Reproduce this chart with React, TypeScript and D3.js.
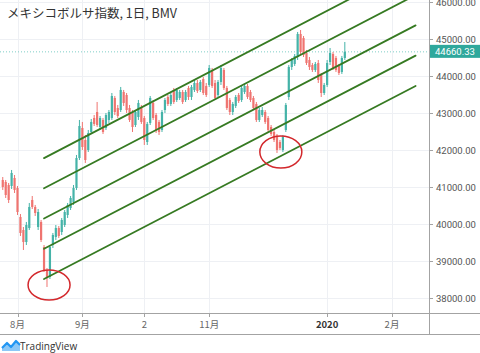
import React, { useEffect, useRef } from "react";
import * as d3 from "d3";

// bar index 0 = first trading day of August 2019
const firstIndex = -5;

// [open, high, low, close] per trading day
const candles: number[][] = [
  [41193, 41274, 40923, 41004],
  [41139, 41193, 40706, 40787],
  [41058, 41112, 40571, 40652],
  [41031, 41464, 40950, 41383],
  [41247, 41328, 40841, 40923],
  [40977, 41031, 40246, 40327],
  [40192, 40273, 39678, 39759],
  [39840, 39921, 39299, 39515],
  [39515, 40057, 39434, 39975],
  [39894, 40571, 39840, 40463],
  [40652, 40760, 40408, 40463],
  [40463, 40517, 40219, 40300],
  [39921, 40408, 39840, 40327],
  [40057, 40111, 39515, 39570],
  [39380, 39434, 38704, 38758],
  [38758, 38812, 38298, 38568],
  [38568, 39434, 38514, 39380],
  [39434, 39759, 39353, 39705],
  [39651, 39975, 39570, 39894],
  [39894, 39948, 39624, 39678],
  [39786, 40165, 39705, 40111],
  [39975, 40381, 39921, 40327],
  [40246, 40571, 40165, 40517],
  [40436, 40760, 40381, 40706],
  [40598, 41058, 40517, 40977],
  [40977, 41870, 40923, 41788],
  [41788, 42817, 41734, 42654],
  [42600, 42763, 42005, 42086],
  [42276, 42411, 41653, 41734],
  [42005, 42546, 41951, 42465],
  [42492, 42844, 42438, 42763],
  [42871, 42952, 42654, 42709],
  [43033, 43304, 42627, 42681],
  [42627, 42925, 42546, 42871],
  [42817, 42871, 42438, 42492],
  [42600, 43006, 42546, 42952],
  [42817, 43087, 42736, 43033],
  [42871, 43547, 42817, 43466],
  [43412, 43466, 42952, 43033],
  [43141, 43223, 42871, 42925],
  [43087, 43710, 43033, 43629],
  [43574, 43629, 43196, 43277],
  [43493, 43547, 43006, 43087],
  [43141, 43223, 42763, 42817],
  [43033, 43087, 42492, 42627],
  [42681, 43087, 42627, 43033],
  [42898, 43358, 42817, 43277],
  [43141, 43223, 42709, 42763],
  [42871, 42925, 42140, 42276],
  [42221, 42763, 42140, 42709],
  [42736, 43466, 42681, 43412],
  [43277, 43358, 42817, 42871],
  [42952, 43006, 42465, 42546],
  [42763, 42817, 42411, 42492],
  [42546, 43087, 42492, 43033],
  [43087, 43412, 43006, 43358],
  [43439, 43493, 43196, 43250],
  [43250, 43547, 43196, 43493],
  [43629, 43683, 43250, 43304],
  [43358, 43683, 43304, 43629],
  [43412, 43629, 43358, 43574],
  [43574, 43629, 43250, 43304],
  [43358, 43629, 43304, 43574],
  [43683, 43737, 43358, 43439],
  [43439, 43764, 43358, 43710],
  [43629, 43899, 43574, 43818],
  [43818, 43899, 43547, 43602],
  [43629, 43899, 43574, 43845],
  [43926, 43980, 43493, 43547],
  [43737, 43818, 43439, 43493],
  [43764, 44305, 43710, 44224],
  [44170, 44224, 43683, 43737],
  [43818, 43899, 43358, 43412],
  [43493, 43899, 43439, 43845],
  [43845, 44305, 43764, 44224],
  [44170, 44224, 43629, 43683],
  [43683, 43737, 43087, 43141],
  [43358, 43412, 42952, 43033],
  [43033, 43304, 42952, 43250],
  [43196, 43493, 43141, 43439],
  [43493, 43547, 43277, 43331],
  [43358, 43737, 43304, 43683],
  [43574, 43791, 43520, 43737],
  [43737, 43791, 43385, 43439],
  [43574, 43629, 43304, 43358],
  [43412, 43466, 43087, 43141],
  [43250, 43304, 42763, 42817],
  [42817, 43141, 42763, 43087],
  [42952, 43168, 42898, 43087],
  [43033, 43087, 42709, 42763],
  [42871, 42925, 42492, 42546],
  [42627, 42681, 42384, 42438],
  [42492, 42546, 42221, 42276],
  [42384, 42438, 41924, 42005],
  [42221, 42276, 42005, 42059],
  [42005, 42411, 41951, 42357],
  [42546, 43277, 42492, 43223],
  [43439, 44305, 43358, 44251],
  [44251, 44494, 44170, 44440],
  [44332, 44603, 44278, 44549],
  [44521, 45198, 44440, 45144],
  [45144, 45252, 44576, 44657],
  [45036, 45090, 44521, 44576],
  [44630, 44711, 44305, 44359],
  [44440, 44521, 44170, 44251],
  [44305, 44359, 44116, 44170],
  [44170, 44386, 44116, 44332],
  [44359, 44440, 43818, 43899],
  [44034, 44089, 43439, 43547],
  [43547, 43818, 43493, 43764],
  [43764, 44440, 43710, 44359],
  [44386, 44765, 44305, 44630],
  [44603, 44657, 44170, 44224],
  [44494, 44549, 44116, 44170],
  [44278, 44332, 44034, 44089],
  [44116, 44549, 44062, 44494],
  [44494, 44927, 44440, 44660.33],
];

const priceTicks = [38000, 39000, 40000, 41000, 42000, 43000, 44000, 45000, 46000];
const timeTickIndex = [0, 22, 43, 65, 105, 127];
const timeTickLabels = ["8月", "9月", "2", "11月", "2020", "2月"];
const lastPrice = 44660.33;

// parallel channel drawn on the chart
const channelStartIndex = 9;
const channelEndIndex = 135;
const channelStartPrices = [38514, 39332, 40150, 40968, 41786];
const channelEndPrices = [43737, 44557, 45377, 46197, 47017];

// red circle annotations
const circleIndex = [10.7, 89.3];
const circlePrice = [38350, 41950];

const App = () => {
  const svgRef = useRef<SVGSVGElement>(null);

  useEffect(() => {
    const svg = d3.select(svgRef.current);
    svg.selectAll("*").remove();

    const width = 480;
    const height = 353;
    const plotRight = 429;
    const plotBottom = 313;
    const axisBottom = 334;

    const x = d3.scaleLinear().domain([0, 127]).range([17.5, 392]);
    const y = d3.scaleLinear().domain([38000, 45000]).range([298, 39.3]);

    svg.attr("width", width).attr("height", height);
    svg.append("rect").attr("width", width).attr("height", height).attr("fill", "#fff");

    svg.append("defs").append("clipPath").attr("id", "plot")
      .append("rect").attr("width", plotRight).attr("height", plotBottom);

    const plot = svg.append("g").attr("clip-path", "url(#plot)");

    // grid
    plot.selectAll(".vgrid").data(timeTickIndex).enter().append("line")
      .attr("x1", d => Math.round(x(d)) + 0.5).attr("x2", d => Math.round(x(d)) + 0.5)
      .attr("y1", 0).attr("y2", plotBottom)
      .attr("stroke", "#eef0f4");
    plot.selectAll(".hgrid").data(priceTicks).enter().append("line")
      .attr("y1", d => Math.round(y(d)) + 0.5).attr("y2", d => Math.round(y(d)) + 0.5)
      .attr("x1", 0).attr("x2", plotRight)
      .attr("stroke", "#eef0f4");

    // last price dotted line
    plot.append("line")
      .attr("x1", 0).attr("x2", plotRight)
      .attr("y1", y(lastPrice)).attr("y2", y(lastPrice))
      .attr("stroke", "#7fcfc7").attr("stroke-dasharray", "1,2");

    // candles
    const up = "#45b3a8";
    const down = "#ef7470";
    const bars = plot.selectAll(".bar").data(candles).enter().append("g");
    bars.append("line")
      .attr("x1", (d, i) => x(firstIndex + i)).attr("x2", (d, i) => x(firstIndex + i))
      .attr("y1", d => y(d[1])).attr("y2", d => y(d[2]))
      .attr("stroke", d => (d[3] >= d[0] ? up : down)).attr("stroke-width", 1);
    bars.append("rect")
      .attr("x", (d, i) => x(firstIndex + i) - 1.1)
      .attr("width", 2.2)
      .attr("y", d => y(Math.max(d[0], d[3])))
      .attr("height", d => Math.max(1, Math.abs(y(d[0]) - y(d[3]))))
      .attr("fill", d => (d[3] >= d[0] ? up : down));

    // channel lines
    plot.selectAll(".channel").data(channelStartPrices).enter().append("line")
      .attr("x1", x(channelStartIndex)).attr("x2", x(channelEndIndex))
      .attr("y1", d => y(d)).attr("y2", (d, i) => y(channelEndPrices[i]))
      .attr("stroke", "#367a22").attr("stroke-width", 1.8).attr("stroke-linecap", "round");

    // circles
    plot.selectAll(".mark").data(circleIndex).enter().append("ellipse")
      .attr("cx", d => x(d)).attr("cy", (d, i) => y(circlePrice[i]))
      .attr("rx", 21).attr("ry", (d, i) => (i === 0 ? 15 : 16))
      .attr("fill", "none").attr("stroke", "#d3282c").attr("stroke-width", 1.5);

    // title
    svg.append("text")
      .attr("x", 7).attr("y", 18)
      .style("font-family", "'Noto Sans CJK JP', 'Noto Sans', sans-serif")
      .style("font-size", "12.5px")
      .style("fill", "#333")
      .text("メキシコボルサ指数, 1日, BMV");

    // right axis
    svg.append("line")
      .attr("x1", plotRight + 0.5).attr("x2", plotRight + 0.5)
      .attr("y1", 0).attr("y2", axisBottom)
      .attr("stroke", "#a3a3a3");
    svg.selectAll(".ptick").data(priceTicks).enter().append("line")
      .attr("x1", plotRight).attr("x2", plotRight + 4)
      .attr("y1", d => Math.round(y(d)) + 0.5).attr("y2", d => Math.round(y(d)) + 0.5)
      .attr("stroke", "#a3a3a3");
    svg.selectAll(".plabel").data(priceTicks).enter().append("text")
      .attr("x", 436).attr("y", d => y(d) + 3.5)
      .style("font-family", "Roboto, sans-serif")
      .style("font-size", "9.5px")
      .style("fill", "#555")
      .text(d => d3.format(".2f")(d));

    // last price label
    svg.append("rect")
      .attr("x", plotRight + 1).attr("y", y(lastPrice) - 7)
      .attr("width", width - plotRight - 1).attr("height", 13)
      .attr("fill", "#2fa89c");
    svg.append("text")
      .attr("x", 435).attr("y", y(lastPrice) + 3.5)
      .style("font-family", "Roboto, sans-serif")
      .style("font-size", "9.5px")
      .style("fill", "#fff")
      .text(d3.format(".2f")(lastPrice));

    // bottom axis
    svg.append("line")
      .attr("x1", 0).attr("x2", width)
      .attr("y1", plotBottom + 0.5).attr("y2", plotBottom + 0.5)
      .attr("stroke", "#a3a3a3");
    svg.append("line")
      .attr("x1", 0).attr("x2", width)
      .attr("y1", axisBottom + 0.5).attr("y2", axisBottom + 0.5)
      .attr("stroke", "#a3a3a3");
    svg.selectAll(".ttick").data(timeTickIndex).enter().append("line")
      .attr("x1", d => Math.round(x(d)) + 0.5).attr("x2", d => Math.round(x(d)) + 0.5)
      .attr("y1", plotBottom).attr("y2", plotBottom + 4)
      .attr("stroke", "#a3a3a3");
    svg.selectAll(".tlabel").data(timeTickIndex).enter().append("text")
      .attr("x", d => x(d)).attr("y", 328)
      .attr("text-anchor", "middle")
      .style("font-family", "'Noto Sans CJK JP', Roboto, sans-serif")
      .style("font-size", "9.5px")
      .style("font-weight", (d, i) => (timeTickLabels[i] === "2020" ? "bold" : "normal"))
      .style("fill", (d, i) => (timeTickLabels[i] === "2020" ? "#333" : "#666"))
      .text((d, i) => timeTickLabels[i]);

    // TradingView logo
    const logo = svg.append("g").attr("transform", "translate(2,340)");
    logo.append("path")
      .attr("d", "M0,11 L0,8 L5,3 L9,7 L14,1 L18,5 L18,11 Z")
      .attr("fill", "#8cc8f7");
    logo.append("path")
      .attr("d", "M0,8 L5,3 L9,7 L14,1 L18,5")
      .attr("fill", "none").attr("stroke", "#2196f3").attr("stroke-width", 2.2)
      .attr("stroke-linejoin", "round");
    svg.append("text")
      .attr("x", 20).attr("y", 350)
      .style("font-family", "'Open Sans', sans-serif")
      .style("font-size", "10px")
      .style("fill", "#333")
      .text("TradingView");
  }, []);

  return <svg ref={svgRef} style={{ position: "absolute", left: 0, top: 0 }} />;
};

export default App;
